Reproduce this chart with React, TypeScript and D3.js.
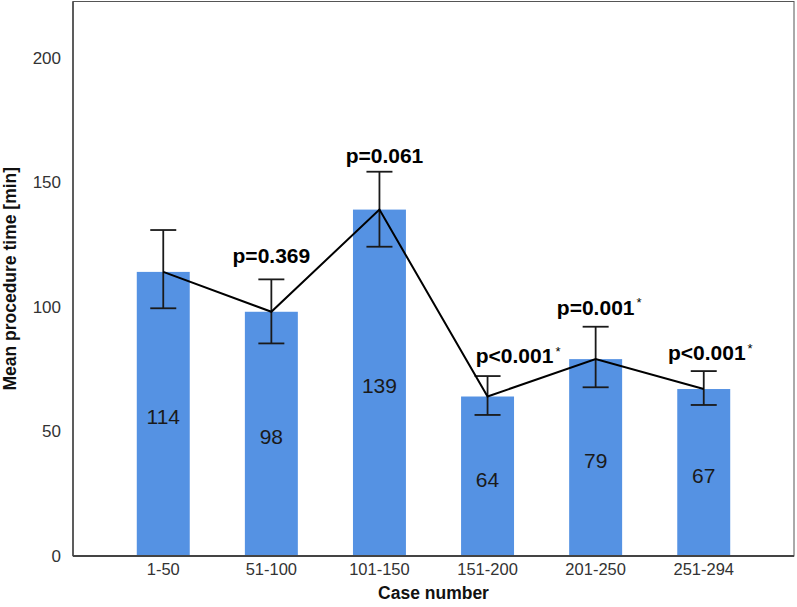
import React from 'react';
import * as d3 from 'd3';

const categories = ['1-50', '51-100', '101-150', '151-200', '201-250', '251-294'];
const means = [114, 98, 139, 64, 79, 67];
const ciLow = [99.4, 85.3, 124.1, 56.6, 67.7, 60.6];
const ciHigh = [130.8, 111, 154.2, 72.2, 92, 74.2];
const pLabels = ['', 'p=0.369', 'p=0.061', 'p<0.001', 'p=0.001', 'p<0.001'];
const pStars = [false, false, false, true, true, true];
const yTicks = [0, 50, 100, 150, 200];

// hand-placed label offsets (dx from bar centre, dy from upper whisker)
const labelDx = [0, 0, 5, 27, 0, 3];
const labelDy = [0, -16, -9, -13, -12, -11];

const App = () => {
    const width = 797;
    const height = 607;
    const left = 73;
    const right = 794;
    const top = 1.5;
    const bottom = 556;

    const x = d3.scaleBand()
        .domain(categories)
        .range([left, right])
        .paddingInner(0.51)
        .paddingOuter(0.59);

    const y = d3.scaleLinear()
        .domain([0, 222.5])
        .range([bottom, top]);

    const cx = (i) => x(categories[i]) + x.bandwidth() / 2;

    const line = d3.line()
        .x((d, i) => cx(i))
        .y(d => y(d));

    const font = 'Liberation Sans, Arial, sans-serif';
    const capW = 13;

    return (
        <svg width={width} height={height} style={{ position: 'absolute', left: 0, top: 0 }} fontFamily={font}>
            <rect x={0} y={0} width={width} height={height} fill="#fff" />
            {/* frame */}
            <rect x={left} y={top} width={right - left} height={bottom - top} fill="none" stroke="#555" strokeWidth={1} />

            {means.map((m, i) => (
                <rect
                    key={categories[i]}
                    x={x(categories[i])}
                    y={y(m)}
                    width={x.bandwidth()}
                    height={y(0) - y(m)}
                    fill="#5592E3"
                />
            ))}

            <line x1={left} x2={right} y1={bottom} y2={bottom} stroke="#444" strokeWidth={2} />
            <line x1={left} x2={left} y1={top} y2={bottom} stroke="#444" strokeWidth={1.5} />

            {/* value labels */}
            {means.map((m, i) => (
                <text
                    key={'v' + i}
                    x={cx(i)}
                    y={(y(m) + y(0)) / 2 + 3}
                    dy="0.35em"
                    textAnchor="middle"
                    fontSize="21"
                    fill="#1a1a1a"
                >
                    {m}
                </text>
            ))}

            {/* error bars */}
            {means.map((m, i) => (
                <g key={'e' + i} stroke="#1a1a1a" strokeWidth={1.8}>
                    <line x1={cx(i)} x2={cx(i)} y1={y(ciLow[i])} y2={y(ciHigh[i])} />
                    <line x1={cx(i) - capW} x2={cx(i) + capW} y1={y(ciHigh[i])} y2={y(ciHigh[i])} />
                    <line x1={cx(i) - capW} x2={cx(i) + capW} y1={y(ciLow[i])} y2={y(ciLow[i])} />
                </g>
            ))}

            <path d={line(means)} fill="none" stroke="#000" strokeWidth={2} />

            {/* p-value labels */}
            {pLabels.map((p, i) => p && (
                <text
                    key={'p' + i}
                    x={cx(i) + labelDx[i] - 38.8}
                    y={y(ciHigh[i]) + labelDy[i]}
                    fontSize="21"
                    fontWeight="bold"
                    fill="#000"
                >
                    {p}
                    {pStars[i] && <tspan fontWeight="normal" fontSize="13" dx="2" dy="-7.5">*</tspan>}
                </text>
            ))}

            {/* y ticks */}
            {yTicks.map(t => (
                <text key={'y' + t} x={61} y={y(t)} dy="0.35em" textAnchor="end" fontSize="17" fill="#333">
                    {t}
                </text>
            ))}

            {/* x ticks */}
            {categories.map((c, i) => (
                <text key={'x' + c} x={cx(i)} y={575} textAnchor="middle" fontSize="16.5" fill="#333">
                    {c}
                </text>
            ))}

            <text x={(left + right) / 2} y={599} textAnchor="middle" fontSize="17.5" fontWeight="bold" fill="#111">
                Case number
            </text>
            <text
                transform={`translate(16, ${(top + bottom) / 2}) rotate(-90)`}
                textAnchor="middle"
                fontSize="17.5"
                fontWeight="bold"
                fill="#111"
            >
                Mean procedure time [min]
            </text>
        </svg>
    );
};

export default App;
